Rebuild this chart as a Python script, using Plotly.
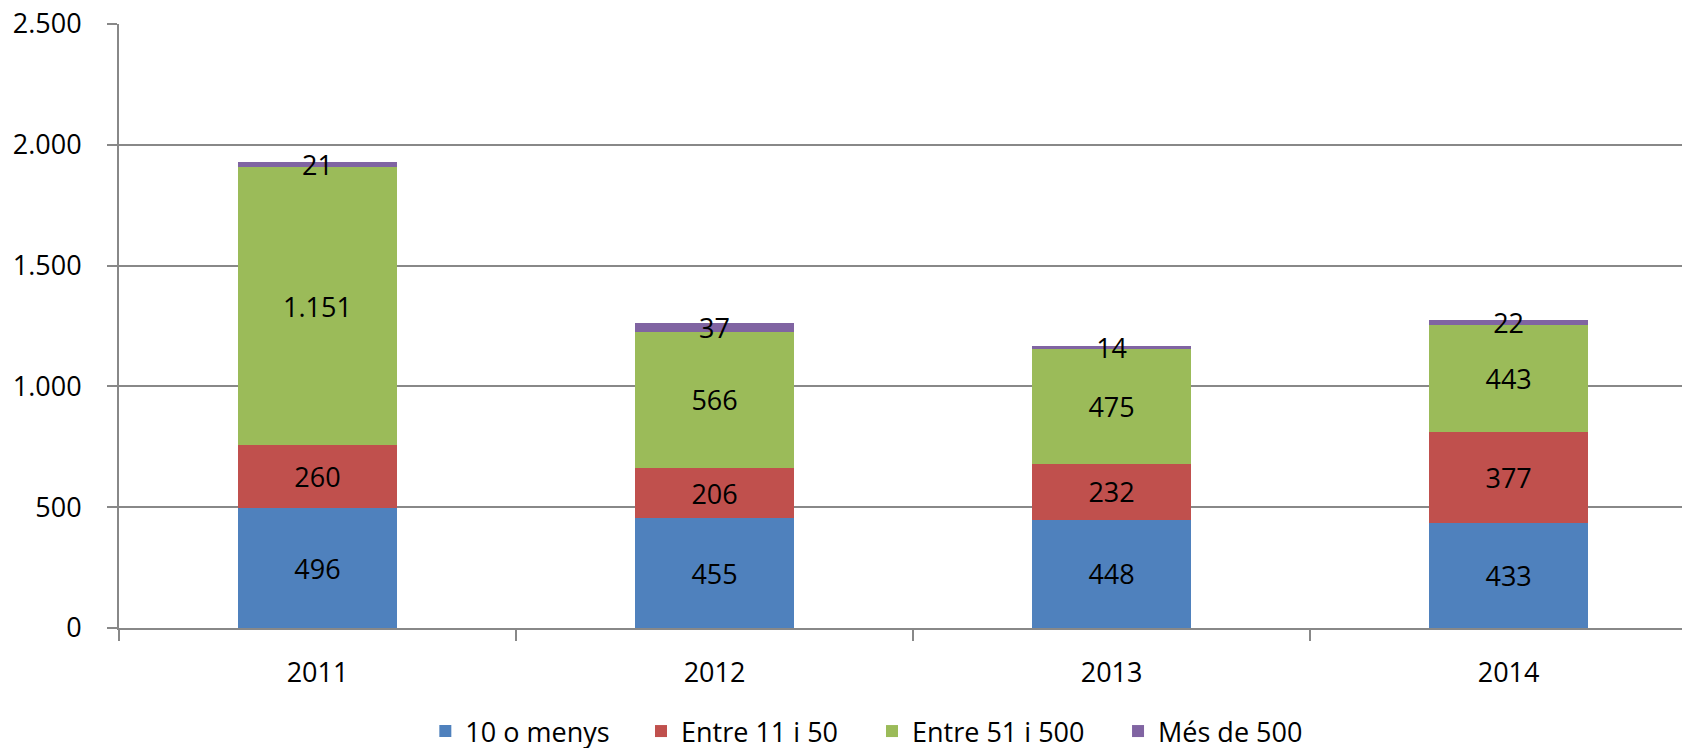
import plotly.graph_objects as go

anys = ["2011", "2012", "2013", "2014"]
menys_10 = [496, 455, 448, 433]
entre_11_50 = [260, 206, 232, 377]
entre_51_500 = [1151, 566, 475, 443]
mes_500 = [21, 37, 14, 22]

series = [
    ("10 o menys", menys_10, "#4F81BD"),
    ("Entre 11 i 50", entre_11_50, "#C0504D"),
    ("Entre 51 i 500", entre_51_500, "#9BBB59"),
    ("Més de 500", mes_500, "#8064A2"),
]

FONT = "Open Sans"
MIDA = 27
GRIS = "#888888"

# posició x de cada element de la llegenda (fracció de l'àrea del gràfic)
pos_llegenda = [0.194, 0.3306, 0.4769, 0.6327]
noms_llegenda = ["legend", "legend2", "legend3", "legend4"]

fig = go.Figure()
for (nom, valors, color), leg in zip(series, noms_llegenda):
    fig.add_trace(go.Bar(
        x=anys, y=valors, name=nom, legend=leg,
        marker=dict(color=color, line=dict(width=0)),
        text=valors, texttemplate="%{y:,}",
        textposition="inside", insidetextanchor="middle",
        textangle=0, constraintext="none",
        textfont=dict(family=FONT, size=MIDA, color="black"),
        width=0.4,
    ))

llegendes = {
    leg: dict(
        orientation="h", x=px, xanchor="left",
        y=-0.172, yanchor="middle",
        font=dict(family=FONT, size=MIDA),
        bgcolor="rgba(0,0,0,0)",
    )
    for leg, px in zip(noms_llegenda, pos_llegenda)
}

# la pàgina té 8 px de marge al body, per això els marges són més petits
fig.update_layout(
    barmode="stack",
    width=1690, height=748,
    margin=dict(l=111, r=0, t=16, b=127),
    plot_bgcolor="white", paper_bgcolor="white",
    separators=",.",
    font=dict(family=FONT, size=MIDA, color="black"),
    showlegend=True,
    xaxis=dict(
        type="category", range=[-0.5, 3.477],
        showline=True, linecolor=GRIS, linewidth=2,
        ticks="outside", tickson="boundaries", ticklen=11,
        tickcolor=GRIS, tickwidth=1.5,
        showgrid=False, ticklabelstandoff=20, automargin=False,
    ),
    yaxis=dict(
        range=[0, 2500], dtick=500, tickformat=",",
        showline=True, linecolor=GRIS, linewidth=2,
        showgrid=True, gridcolor=GRIS, gridwidth=1.5,
        ticks="outside", ticklen=10, tickcolor=GRIS, tickwidth=1.5,
        zeroline=False, ticklabelstandoff=20, automargin=False,
        ticklabeloverflow="allow",
    ),
    **llegendes,
)

fig.write_html("out.html")
